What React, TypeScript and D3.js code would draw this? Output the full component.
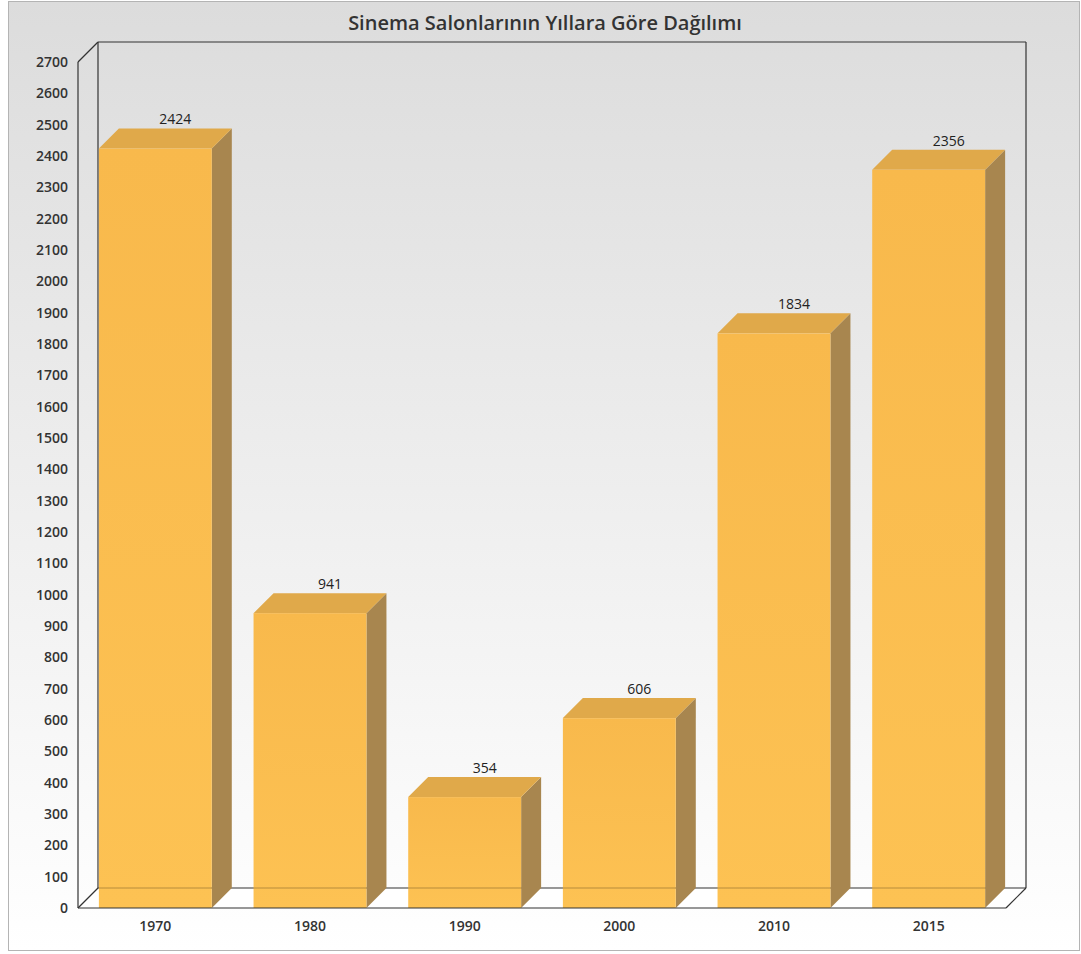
import React from "react";
import * as d3 from "d3";

const categories = ["1970", "1980", "1990", "2000", "2010", "2015"];
const values = [2424, 941, 354, 606, 1834, 2356];
const yTicks = d3.range(0, 2701, 100);
const title = "Sinema Salonlarının Yıllara Göre Dağılımı";

const W = 1081;
const H = 954;
const X0 = 78;
const X1 = 1006;
const YT = 62;
const YB = 908;
const D = 20;
const FONT = "'Open Sans', 'Noto Sans', sans-serif";

export default function App() {
  const x = d3
    .scaleBand<string>()
    .domain(categories)
    .range([X0, X1])
    .paddingInner(0.27)
    .paddingOuter(0.135);
  const y = d3.scaleLinear().domain([0, 2700]).range([YB, YT]);
  const bw = x.bandwidth();

  return (
    <svg
      width={W}
      height={H}
      style={{ position: "absolute", left: 0, top: 0, display: "block" }}
      fontFamily={FONT}
    >
      <defs>
        <linearGradient id="bg" x1="0" y1="0" x2="0" y2="1">
          <stop offset="0" stopColor="#dcdcdc" />
          <stop offset="1" stopColor="#ffffff" />
        </linearGradient>
        <linearGradient id="front" x1="0" y1="0" x2="0" y2="1">
          <stop offset="0" stopColor="#f8b94c" />
          <stop offset="1" stopColor="#fdc253" />
        </linearGradient>
      </defs>
      <rect x={0} y={0} width={W} height={H} fill="#ffffff" />
      <rect
        x={8.5}
        y={1.5}
        width={1071}
        height={949}
        fill="url(#bg)"
        stroke="#b4b4b4"
        strokeWidth={1}
      />
      <text
        x={545}
        y={29.5}
        textAnchor="middle"
        fontSize={20}
        fontWeight={600}
        fill="#333333"
      >
        {title}
      </text>

      {/* floor */}
      <polygon
        points={`${X0},${YB} ${X0 + D},${YB - D} ${X1 + D},${YB - D} ${X1},${YB}`}
        fill="#ffffff"
      />
      {/* back wall & left wall lines */}
      <g stroke="#333333" strokeWidth={1.2} fill="none">
        <line x1={X0 + D} y1={YT - D} x2={X1 + D} y2={YT - D} />
        <line x1={X0 + D} y1={YT - D} x2={X0 + D} y2={YB - D} />
        <line x1={X1 + D} y1={YT - D} x2={X1 + D} y2={YB - D} />
        <line x1={X0} y1={YT} x2={X0 + D} y2={YT - D} />
        <line x1={X0} y1={YT} x2={X0} y2={YB} />
        <line x1={X0 + D} y1={YB - D} x2={X1 + D} y2={YB - D} />
        <line x1={X0} y1={YB} x2={X0 + D} y2={YB - D} />
        <line x1={X1} y1={YB} x2={X1 + D} y2={YB - D} />
      </g>

      {/* bars */}
      {categories.map((c, i) => {
        const bx = x(c) as number;
        const top = y(values[i]);
        return (
          <g key={c}>
            <polygon
              points={`${bx + bw},${top} ${bx + bw + D},${top - D} ${bx + bw + D},${YB - D} ${bx + bw},${YB}`}
              fill="#a8864f"
            />
            <polygon
              points={`${bx},${top} ${bx + D},${top - D} ${bx + bw + D},${top - D} ${bx + bw},${top}`}
              fill="#e0a94a"
            />
            <rect x={bx} y={top} width={bw} height={YB - top} fill="url(#front)" />
            <line
              x1={bx}
              x2={bx + bw}
              y1={YB - D}
              y2={YB - D}
              stroke="#000"
              strokeOpacity={0.28}
              strokeWidth={1.2}
            />
            <text
              x={bx + bw / 2 + D}
              y={top - D - 4}
              textAnchor="middle"
              fontSize={14}
              fill="#222222"
            >
              {values[i]}
            </text>
            <text
              x={bx + bw / 2}
              y={YB + 18}
              dy="0.35em"
              textAnchor="middle"
              fontSize={14}
              fontWeight={600}
              fill="#333333"
            >
              {c}
            </text>
          </g>
        );
      })}

      {/* front baseline */}
      <line x1={X0} y1={YB} x2={X1} y2={YB} stroke="#333333" strokeWidth={1.2} />

      {/* y tick labels */}
      {yTicks.map((t) => (
        <text
          key={t}
          x={68}
          y={y(t)}
          dy="0.35em"
          textAnchor="end"
          fontSize={14}
          fontWeight={600}
          fill="#333333"
        >
          {t}
        </text>
      ))}
    </svg>
  );
}
